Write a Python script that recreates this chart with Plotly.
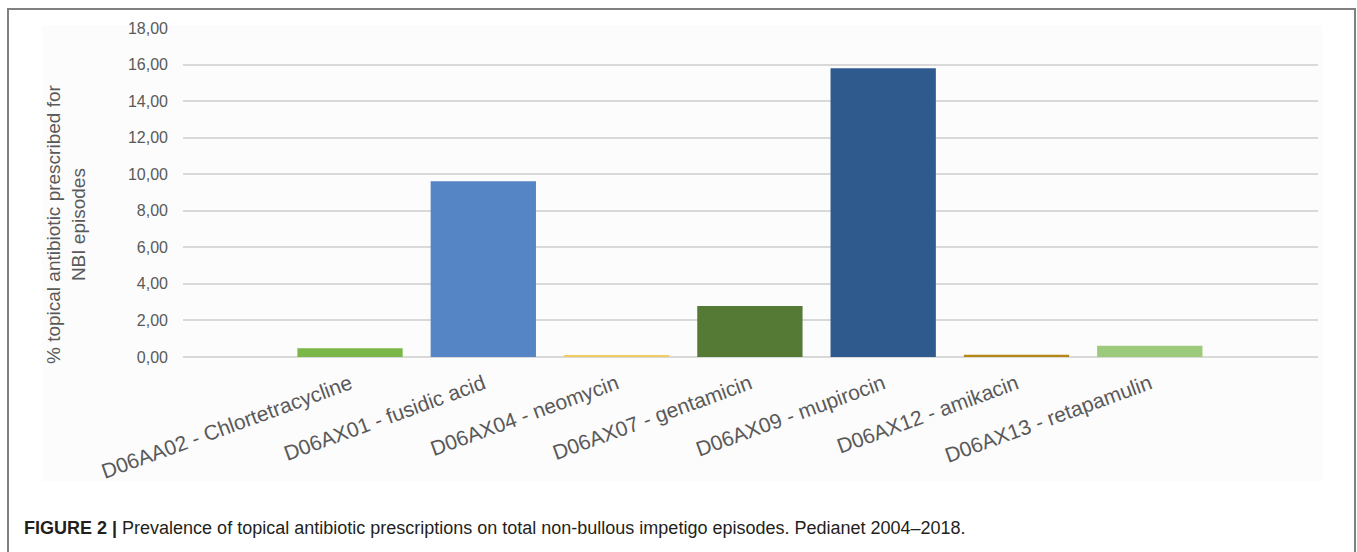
import plotly.graph_objects as go

# Topical antibiotics (ATC code - substance) and share of NBI episodes (%)
categories = [
    "D06AA02 - Chlortetracycline",
    "D06AX01 - fusidic acid",
    "D06AX04 - neomycin",
    "D06AX07 - gentamicin",
    "D06AX09 - mupirocin",
    "D06AX12 - amikacin",
    "D06AX13 - retapamulin",
]
percent_episodes = [0.48, 9.62, 0.06, 2.79, 15.80, 0.12, 0.62]
bar_colors = ["#7ab648", "#5585c5", "#f0cc63", "#557a36", "#2f5a8e", "#b38816", "#9cc97a"]
y_ticks = [0, 2, 4, 6, 8, 10, 12, 14, 16, 18]

W, H = 1357, 552
L, R, T, B = 183, 39, 28, 195
PW, PH = W - L - R, H - T - B


def px_x(x):
    return (x - L) / PW


def px_y(y):
    return (H - B - y) / PH


fig = go.Figure(
    go.Bar(
        x=categories,
        y=percent_episodes,
        marker=dict(color=bar_colors, line=dict(width=0)),
        width=0.79,
        hoverinfo="x+y",
    )
)

shapes = [
    # light chart panel
    dict(type="rect", xref="paper", yref="paper",
         x0=px_x(42), x1=px_x(1322), y0=px_y(481), y1=px_y(25),
         fillcolor="#fcfcfc", line=dict(width=0), layer="below"),
    # outer frame
    dict(type="rect", xref="paper", yref="paper",
         x0=px_x(8), x1=px_x(1355), y0=px_y(570), y1=px_y(9),
         fillcolor="rgba(0,0,0,0)", line=dict(color="#808080", width=2), layer="below"),
]

annotations = [
    dict(text="% topical antibiotic prescribed for<br>NBI episodes",
         xref="paper", yref="paper", x=px_x(66), y=px_y(225),
         xanchor="center", yanchor="middle", textangle=-90, showarrow=False,
         font=dict(family="Liberation Sans, Arial, sans-serif", size=19, color="#595959")),
    dict(text="<b>FIGURE 2 |</b> Prevalence of topical antibiotic prescriptions on total "
              "non-bullous impetigo episodes. Pedianet 2004\u20132018.",
         xref="paper", yref="paper", x=px_x(22), y=px_y(528),
         xanchor="left", yanchor="middle", showarrow=False,
         font=dict(family="Liberation Sans, Arial, sans-serif",
                   size=18, color="#231f20")),
]

fig.update_layout(
    width=W, height=H,
    margin=dict(l=L, r=R, t=T, b=B, autoexpand=False),
    paper_bgcolor="white",
    plot_bgcolor="rgba(0,0,0,0)",
    separators=",.",
    showlegend=False,
    shapes=shapes,
    annotations=annotations,
    xaxis=dict(
        type="category",
        range=[-1.253, 7.262],
        tickangle=-20,
        ticks="",
        showgrid=False,
        showline=False,
        zeroline=False,
        automargin=False,
        ticklabelstandoff=10,
        tickfont=dict(family="Liberation Sans, Arial, sans-serif", size=21, color="#595959"),
    ),
    yaxis=dict(
        range=[0, 18],
        tickvals=y_ticks,
        tickformat=".2f",
        ticks="",
        showgrid=True,
        gridcolor="#d9d9d9",
        gridwidth=1.5,
        zeroline=True,
        zerolinecolor="#d9d9d9",
        zerolinewidth=1.5,
        showline=False,
        automargin=False,
        ticklabelstandoff=14,
        tickfont=dict(family="Liberation Sans, Arial, sans-serif", size=16, color="#595959"),
    ),
)

fig.write_html("out.html")
